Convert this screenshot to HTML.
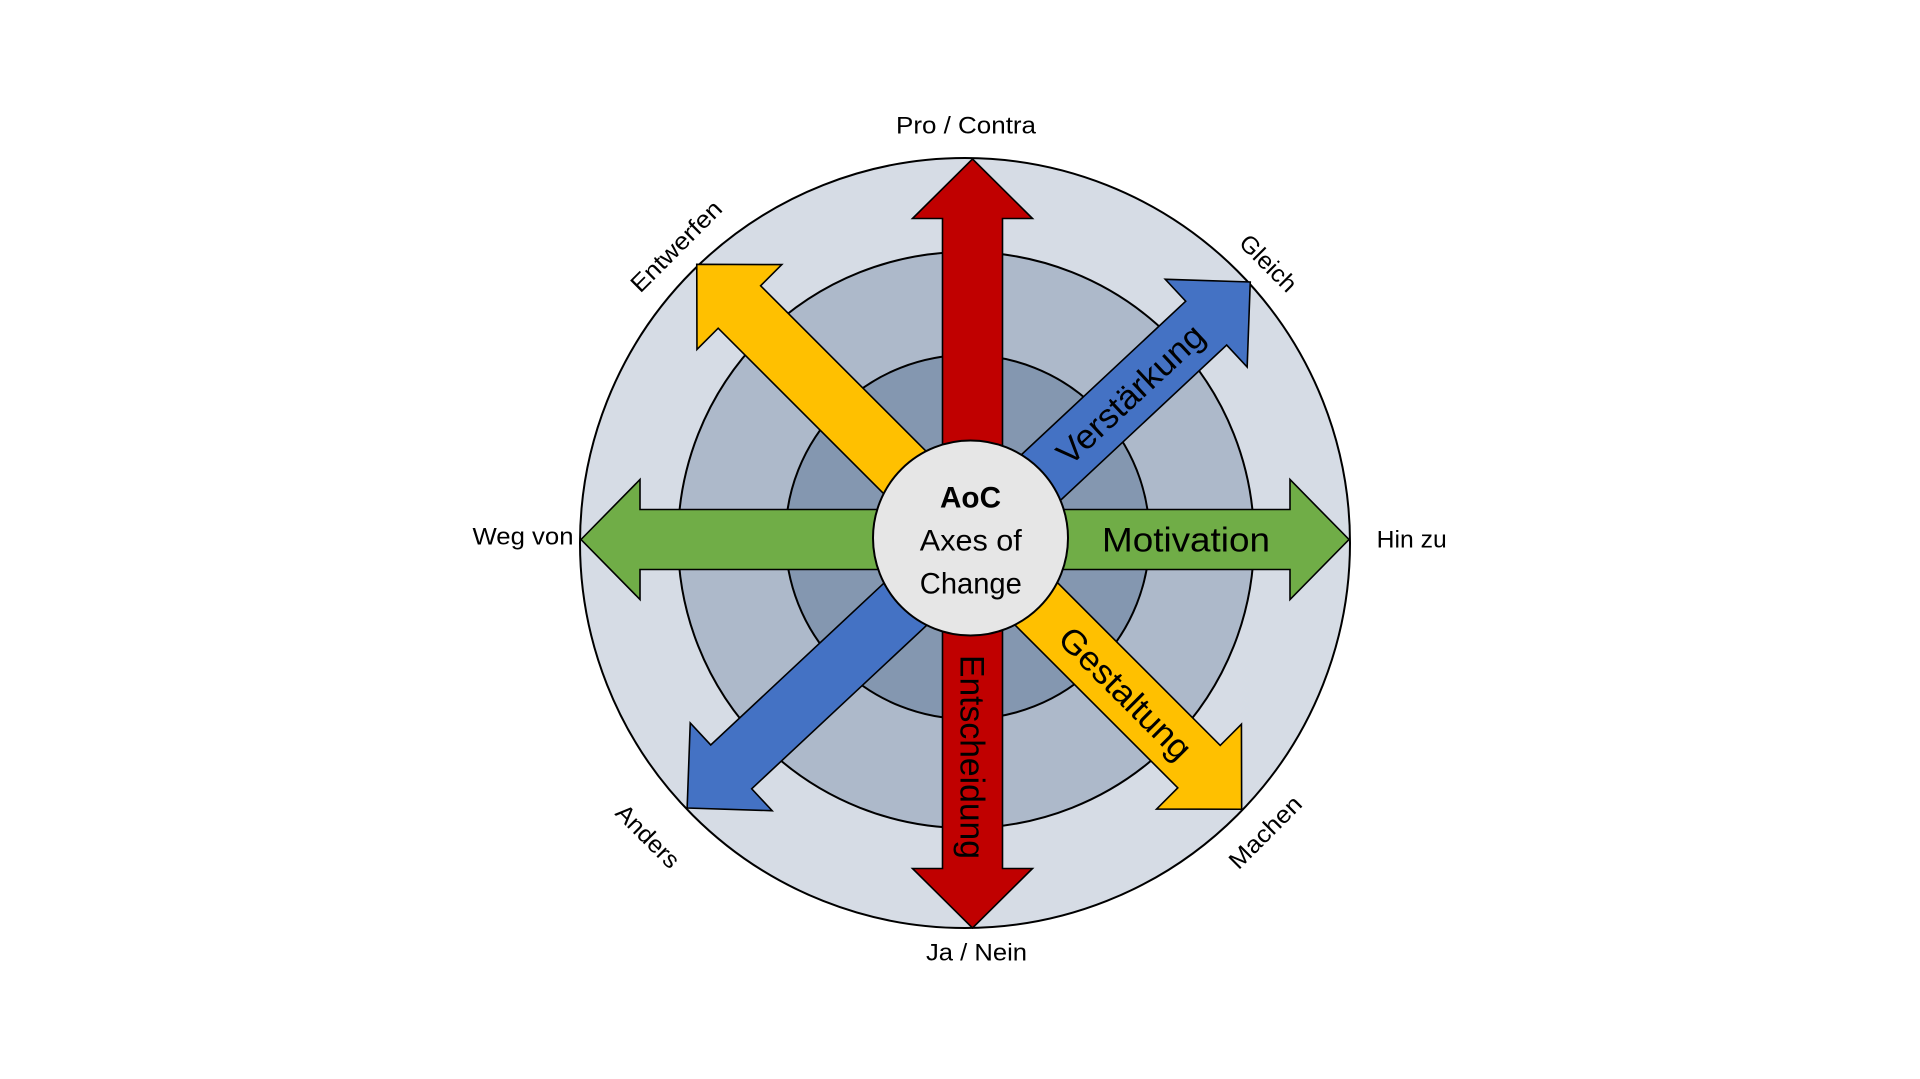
<!DOCTYPE html>
<html>
<head>
<meta charset="utf-8">
<style>
  html, body { margin:0; padding:0; background:#ffffff; }
  svg { display:block; }
  text { font-family: "Liberation Sans", Arial, sans-serif; fill:#000; }
</style>
</head>
<body>
<svg width="1920" height="1079" viewBox="0 0 1920 1079" xmlns="http://www.w3.org/2000/svg">
  <rect width="1920" height="1079" fill="#ffffff"/>

  <!-- rings -->
  <circle cx="965" cy="543" r="385" fill="#D6DCE5" stroke="#000" stroke-width="2"/>
  <circle cx="966" cy="540" r="288" fill="#ADB9CA" stroke="#000" stroke-width="2"/>
  <circle cx="967.5" cy="537" r="182" fill="#8497B0" stroke="#000" stroke-width="2"/>

  <!-- yellow diagonal (NW-SE) -->
  <g transform="translate(969.2,536.8) rotate(45)">
    <polygon points="-385.3,0 -325,-60 -325,-30 325,-30 325,-60 385.3,0 325,60 325,30 -325,30 -325,60"
      fill="#FFC000" stroke="#000" stroke-width="1.6" stroke-linejoin="miter"/>
  </g>
  <!-- blue diagonal (SW-NE) -->
  <g transform="translate(968.7,545) rotate(-43.05)">
    <polygon points="-385.3,0 -325,-60 -325,-30 325,-30 325,-60 385.3,0 325,60 325,30 -325,30 -325,60"
      fill="#4472C4" stroke="#000" stroke-width="1.6" stroke-linejoin="miter"/>
  </g>
  <!-- red vertical -->
  <g transform="translate(972.5,543.5) rotate(90)">
    <polygon points="-384.5,0 -325,-60 -325,-30 325,-30 325,-60 384.5,0 325,60 325,30 -325,30 -325,60"
      fill="#C00000" stroke="#000" stroke-width="1.6" stroke-linejoin="miter"/>
  </g>
  <!-- green horizontal -->
  <g transform="translate(965,539.5)">
    <polygon points="-384,0 -325,-60 -325,-30 325,-30 325,-60 384,0 325,60 325,30 -325,30 -325,60"
      fill="#70AD47" stroke="#000" stroke-width="1.6" stroke-linejoin="miter"/>
  </g>

  <!-- center circle -->
  <circle cx="970.5" cy="538" r="97.5" fill="#E6E6E6" stroke="#000" stroke-width="2"/>

  <!-- center text -->
  <text x="970.5" y="507.7" font-size="30" font-weight="bold" text-anchor="middle" textLength="61" lengthAdjust="spacingAndGlyphs">AoC</text>
  <text x="970.8" y="550.7" font-size="30" text-anchor="middle" textLength="102" lengthAdjust="spacingAndGlyphs">Axes of</text>
  <text x="970.8" y="593.3" font-size="30" text-anchor="middle" textLength="102" lengthAdjust="spacingAndGlyphs">Change</text>

  <!-- arrow labels -->
  <text x="1186" y="551.5" font-size="34" text-anchor="middle" textLength="168" lengthAdjust="spacingAndGlyphs">Motivation</text>
  <g transform="translate(1130.2,394.1) rotate(-43.05)">
    <text x="0" y="12" font-size="34" text-anchor="middle" textLength="188" lengthAdjust="spacingAndGlyphs">Verstärkung</text>
  </g>
  <g transform="translate(1125.5,693.1) rotate(45)">
    <text x="0" y="12" font-size="34" text-anchor="middle" textLength="172" lengthAdjust="spacingAndGlyphs">Gestaltung</text>
  </g>
  <g transform="translate(972.5,757) rotate(90)">
    <text x="0" y="12" font-size="34" text-anchor="middle" textLength="204" lengthAdjust="spacingAndGlyphs">Entscheidung</text>
  </g>

  <!-- outer labels -->
  <text x="966" y="133.3" font-size="24" text-anchor="middle" textLength="140" lengthAdjust="spacingAndGlyphs">Pro / Contra</text>
  <text x="976.5" y="960.7" font-size="24" text-anchor="middle" textLength="101" lengthAdjust="spacingAndGlyphs">Ja / Nein</text>
  <text x="472.5" y="544.5" font-size="24" textLength="101" lengthAdjust="spacingAndGlyphs">Weg von</text>
  <text x="1376.7" y="547.3" font-size="24" textLength="70" lengthAdjust="spacingAndGlyphs">Hin zu</text>
  <g transform="translate(682,252) rotate(-45)">
    <text x="0" y="0" font-size="24" text-anchor="middle" textLength="118" lengthAdjust="spacingAndGlyphs">Entwerfen</text>
  </g>
  <g transform="translate(1262.5,269) rotate(45)">
    <text x="0" y="0" font-size="24" text-anchor="middle" textLength="70" lengthAdjust="spacingAndGlyphs">Gleich</text>
  </g>
  <g transform="translate(1271,838) rotate(-45)">
    <text x="0" y="0" font-size="24" text-anchor="middle" textLength="92" lengthAdjust="spacingAndGlyphs">Machen</text>
  </g>
  <g transform="translate(642,842) rotate(45)">
    <text x="0" y="0" font-size="24" text-anchor="middle" textLength="79" lengthAdjust="spacingAndGlyphs">Anders</text>
  </g>
</svg>
</body>
</html>
